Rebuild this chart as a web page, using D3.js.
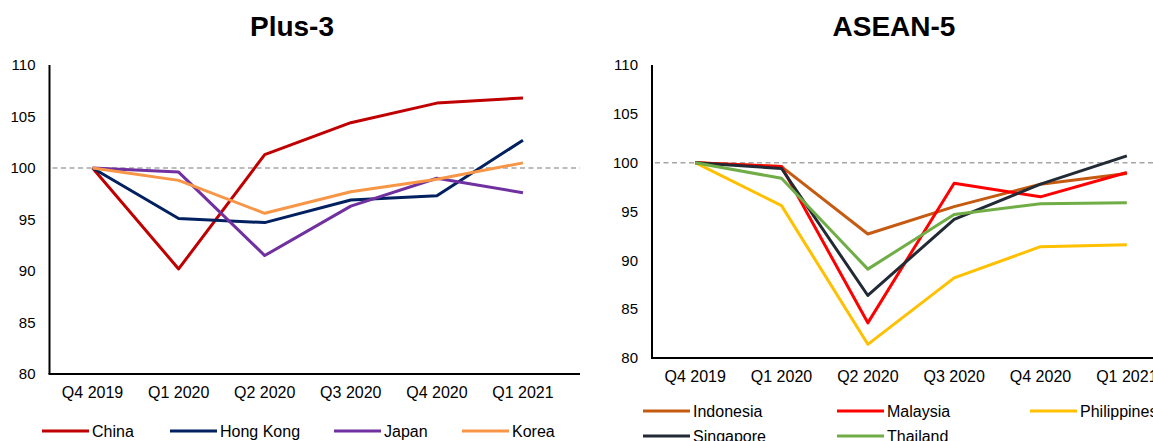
<!DOCTYPE html>
<html>
<head>
<meta charset="utf-8">
<script src="https://cdn.jsdelivr.net/npm/d3@7"></script>
<style>
  html, body { margin: 0; padding: 0; background: #fff; }
  svg { display: block; font-family: "Liberation Sans", Arial, sans-serif; }
</style>
</head>
<body>
<svg id="chart" width="1153" height="441"></svg>
<script>
// Quarterly index, Q4 2019 = 100
const quarters = ["Q4 2019", "Q1 2020", "Q2 2020", "Q3 2020", "Q4 2020", "Q1 2021"];
const yTicks = [80, 85, 90, 95, 100, 105, 110];
const baseline = 100;

// Plus-3 economies
const china    = [100, 90.2, 101.3, 104.4, 106.3, 106.8];
const hongKong = [100, 95.1, 94.7, 96.9, 97.3, 102.7];
const japan    = [100, 99.6, 91.5, 96.3, 99.0, 97.6];
const korea    = [100, 98.8, 95.6, 97.7, 98.9, 100.5];

// ASEAN-5 economies
const indonesia   = [100, 99.6, 92.7, 95.5, 97.8, 98.9];
const malaysia    = [100, 99.6, 83.6, 97.9, 96.5, 99.0];
const philippines = [100, 95.6, 81.4, 88.2, 91.4, 91.6];
const singapore   = [100, 99.4, 86.4, 94.2, 97.8, 100.7];
const thailand    = [100, 98.4, 89.1, 94.7, 95.8, 95.9];

const svg = d3.select("#chart");

function drawPanel(opts) {
  const g = svg.append("g");
  const { left, right, top, bottom, bandEnd, series } = opts;

  const x = d3.scaleBand().domain(quarters).range([left, bandEnd]);
  const y = d3.scaleLinear().domain([80, 110]).range([bottom, top]);

  // title
  g.append("text")
    .attr("x", opts.titleX).attr("y", 36)
    .attr("text-anchor", "middle")
    .style("font-size", "28px").style("font-weight", "bold")
    .text(opts.title);

  // y axis labels
  const yAxis = d3.axisLeft(y).tickValues(yTicks).tickSize(0).tickPadding(14);
  const ya = g.append("g").attr("transform", `translate(${left},0)`).call(yAxis);
  ya.select(".domain").remove();
  ya.selectAll("text").style("font-size", "15px").attr("fill", "#000")
    .style("font-family", "'Liberation Sans', Arial, sans-serif");

  // x axis labels
  const xAxis = d3.axisBottom(x).tickSize(0).tickPadding(13);
  const xa = g.append("g").attr("transform", `translate(0,${bottom})`).call(xAxis);
  xa.select(".domain").remove();
  xa.selectAll("text").style("font-size", "16px").attr("fill", "#000")
    .style("font-family", "'Liberation Sans', Arial, sans-serif");

  // reference line at 100
  g.append("line")
    .attr("x1", left + 3).attr("x2", right)
    .attr("y1", y(baseline)).attr("y2", y(baseline))
    .attr("stroke", "#a6a6a6").attr("stroke-width", 1.5)
    .attr("stroke-dasharray", "5,3.5");

  // axis lines
  g.append("line").attr("x1", left).attr("x2", left)
    .attr("y1", y(110)).attr("y2", y(80))
    .attr("stroke", "#000").attr("stroke-width", 2);
  g.append("line").attr("x1", left - 1).attr("x2", right)
    .attr("y1", y(80)).attr("y2", y(80))
    .attr("stroke", "#000").attr("stroke-width", 2);

  const line = d3.line()
    .x((d, i) => x(quarters[i]) + x.bandwidth() / 2)
    .y(d => y(d));

  series.forEach(s => {
    g.append("path")
      .datum(s.values)
      .attr("fill", "none")
      .attr("stroke", s.color)
      .attr("stroke-width", 3)
      .attr("stroke-linejoin", "round")
      .attr("d", line);
  });

  // legend
  series.forEach(s => {
    const lg = g.append("g").attr("transform", `translate(${s.lx},${s.ly})`);
    lg.append("line").attr("x1", 0).attr("x2", 47).attr("y1", 0).attr("y2", 0)
      .attr("stroke", s.color).attr("stroke-width", 3);
    lg.append("text").attr("x", 50).attr("y", 0).attr("dy", "0.35em")
      .style("font-size", "16px").text(s.name);
  });
}

drawPanel({
  title: "Plus-3", titleX: 292,
  left: 49.5, right: 580, top: 65, bottom: 374, bandEnd: 566,
  series: [
    { name: "China",     values: china,    color: "#c00000", lx: 42,  ly: 431 },
    { name: "Hong Kong", values: hongKong, color: "#002060", lx: 170, ly: 431 },
    { name: "Japan",     values: japan,    color: "#7030a0", lx: 334, ly: 431 },
    { name: "Korea",     values: korea,    color: "#f79646", lx: 462, ly: 431 }
  ]
});

drawPanel({
  title: "ASEAN-5", titleX: 894,
  left: 652, right: 1153, top: 65, bottom: 358, bandEnd: 1170,
  series: [
    { name: "Indonesia",   values: indonesia,   color: "#c55a11", lx: 643,  ly: 411 },
    { name: "Malaysia",    values: malaysia,    color: "#ff0000", lx: 837,  ly: 411 },
    { name: "Philippines", values: philippines, color: "#ffc000", lx: 1030, ly: 411 },
    { name: "Singapore",   values: singapore,   color: "#222a35", lx: 643,  ly: 436 },
    { name: "Thailand",    values: thailand,    color: "#70ad47", lx: 837,  ly: 436 }
  ]
});
</script>
</body>
</html>
